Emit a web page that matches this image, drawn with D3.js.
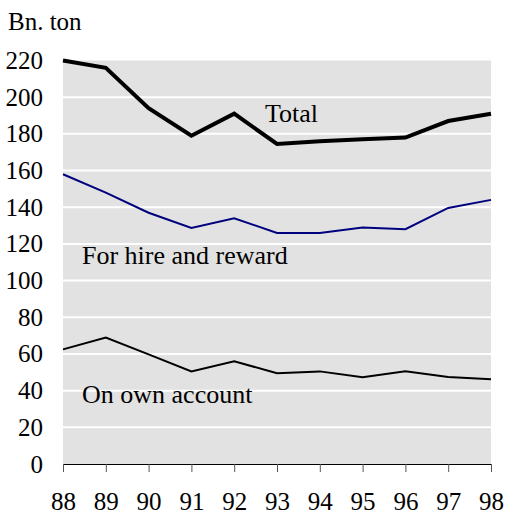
<!DOCTYPE html>
<html>
<head>
<meta charset="utf-8">
<script src="https://cdn.jsdelivr.net/npm/d3@7"></script>
<style>
  html, body { margin: 0; padding: 0; background: #fff; }
  svg { display: block; }
  svg text { font-family: "Liberation Serif", "DejaVu Serif", serif; }
</style>
</head>
<body>
<div id="chart"></div>
<script>
// years on the x axis
const years = ["88", "89", "90", "91", "92", "93", "94", "95", "96", "97", "98"];
// series values (Bn. ton)
const total = [220, 216, 194, 179, 191, 174.5, 176, 177, 178, 187, 191];
const hireReward = [158, 148, 137, 128.7, 134, 126, 126, 129, 128, 139.6, 144];
const ownAccount = [62.5, 69, 59.8, 50.5, 56, 49.5, 50.5, 47.3, 50.5, 47.5, 46.2];
const yTicks = [0, 20, 40, 60, 80, 100, 120, 140, 160, 180, 200, 220];

const W = 506, H = 515;
const plot = { left: 63, right: 491, top: 60.5, bottom: 464 };
const serif = '"Liberation Serif", "DejaVu Serif", serif';

const svg = d3.select("#chart").append("svg")
  .attr("width", W)
  .attr("height", H);

const x = d3.scalePoint().domain(years).range([plot.left, plot.right]);
const y = d3.scaleLinear().domain([0, 220]).range([plot.bottom, plot.top]);

// grey plot background
svg.append("rect")
  .attr("x", plot.left)
  .attr("y", plot.top)
  .attr("width", plot.right - plot.left)
  .attr("height", plot.bottom - plot.top)
  .attr("fill", "#e2e2e2");

// white gridlines
svg.append("g")
  .selectAll("line")
  .data(yTicks.filter(d => d > 0 && d < 220))
  .enter()
  .append("line")
  .attr("x1", plot.left)
  .attr("x2", plot.right)
  .attr("y1", d => y(d))
  .attr("y2", d => y(d))
  .attr("stroke", "#fff")
  .attr("stroke-width", 2);

// y labels (no axis line)
svg.append("g")
  .selectAll("text")
  .data(yTicks)
  .enter()
  .append("text")
  .attr("x", 43)
  .attr("y", d => y(d))
  .attr("dy", "0.34em")
  .attr("text-anchor", "end")
  .attr("font-family", serif)
  .style("font-size", "25px")
  .text(d => d);

// x axis
const xAxis = svg.append("g")
  .attr("transform", `translate(0,${plot.bottom})`)
  .call(d3.axisBottom(x).tickSize(8).tickSizeOuter(0).tickPadding(20));
xAxis.attr("font-family", serif);
xAxis.select(".domain").attr("stroke", "#000").attr("stroke-width", 1.2);
xAxis.selectAll(".tick line").attr("stroke", "#555");
xAxis.selectAll("text")
  .attr("fill", "#000")
  .style("font-family", serif)
  .style("font-size", "25px");

// unit label
svg.append("text")
  .attr("x", 8)
  .attr("y", 30)
  .attr("font-family", serif)
  .style("font-size", "25px")
  .text("Bn. ton");

const line = d3.line()
  .x((d, i) => x(years[i]))
  .y(d => y(d));

const series = [
  { values: ownAccount, color: "#000", width: 2 },
  { values: hireReward, color: "#00007f", width: 2 },
  { values: total, color: "#000", width: 4 }
];

svg.append("g")
  .selectAll("path")
  .data(series)
  .enter()
  .append("path")
  .attr("d", d => line(d.values))
  .attr("fill", "none")
  .attr("stroke", d => d.color)
  .attr("stroke-width", d => d.width)
  .attr("stroke-linejoin", "miter");

// series labels
const labels = [
  { text: "Total", x: 265, y: 122 },
  { text: "For hire and reward", x: 82, y: 264 },
  { text: "On own account", x: 82, y: 403 }
];
svg.append("g")
  .selectAll("text")
  .data(labels)
  .enter()
  .append("text")
  .attr("x", d => d.x)
  .attr("y", d => d.y)
  .attr("font-family", serif)
  .style("font-size", "26px")
  .text(d => d.text);
</script>
</body>
</html>
